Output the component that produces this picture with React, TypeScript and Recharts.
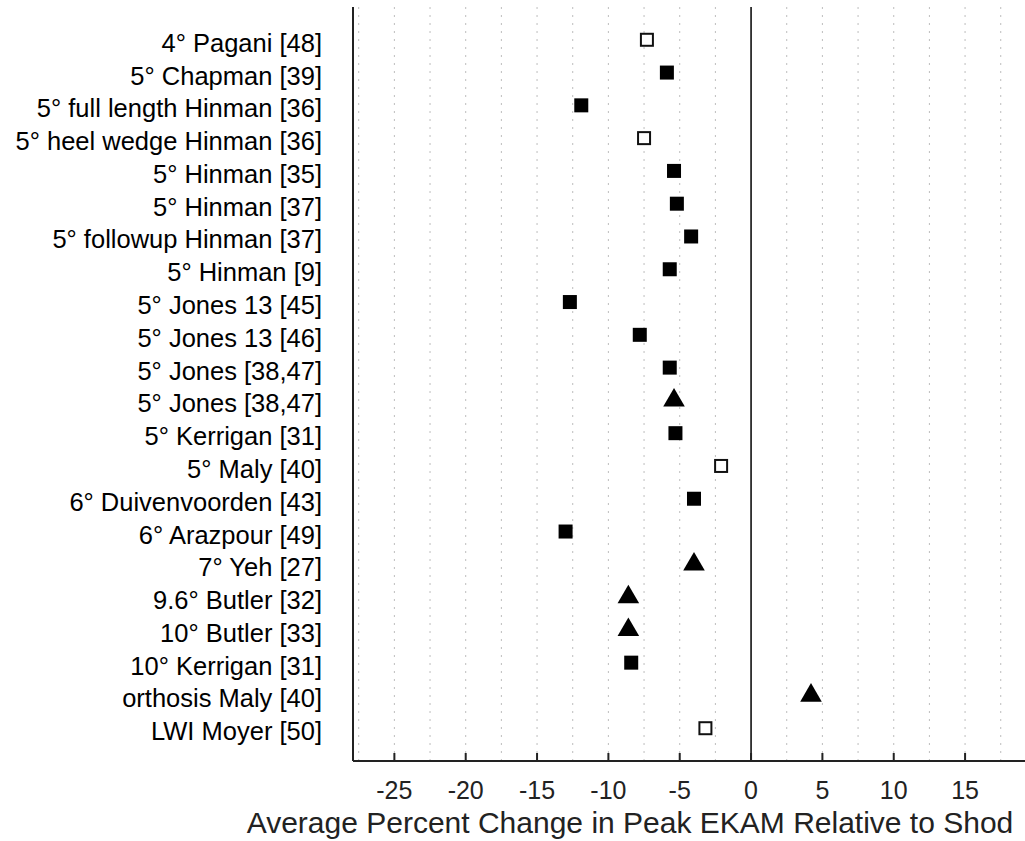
import { ScatterChart, Scatter, XAxis, YAxis, ReferenceLine } from 'recharts';

const FONT = '"Liberation Sans", Arial, sans-serif';

// study labels, top to bottom
const studyLabels = [
  '4° Pagani [48]',
  '5° Chapman [39]',
  '5° full length Hinman [36]',
  '5° heel wedge Hinman [36]',
  '5° Hinman [35]',
  '5° Hinman [37]',
  '5° followup Hinman [37]',
  '5° Hinman [9]',
  '5° Jones 13 [45]',
  '5° Jones 13 [46]',
  '5° Jones [38,47]',
  '5° Jones [38,47]',
  '5° Kerrigan [31]',
  '5° Maly [40]',
  '6° Duivenvoorden [43]',
  '6° Arazpour [49]',
  '7° Yeh [27]',
  '9.6° Butler [32]',
  '10° Butler [33]',
  '10° Kerrigan [31]',
  'orthosis Maly [40]',
  'LWI Moyer [50]',
];

// average percent change in peak EKAM
const changeValues = [
  -7.3, -5.9, -11.9, -7.5, -5.4, -5.2, -4.2, -5.7, -12.7, -7.8, -5.7,
  -5.4, -5.3, -2.1, -4.0, -13.0, -4.0, -8.6, -8.6, -8.4, 4.2, -3.2,
];

// marker kind per study
const markerKinds = [
  'open', 'filled', 'filled', 'open', 'filled', 'filled', 'filled', 'filled',
  'filled', 'filled', 'filled', 'triangle', 'filled', 'open', 'filled',
  'filled', 'triangle', 'triangle', 'triangle', 'filled', 'triangle', 'open',
];

const xTicks = [-25, -20, -15, -10, -5, 0, 5, 10, 15];
const gridValues = [
  -27.5, -25, -22.5, -20, -17.5, -15, -12.5, -10, -7.5, -5, -2.5, 2.5, 5,
  7.5, 10, 12.5, 15, 17.5,
];
const xTitle = 'Average Percent Change in Peak EKAM Relative to Shod';

const points = changeValues.map((x, i) => ({ x, y: i + 1, kind: markerKinds[i] }));
const filledPts = points.filter(p => p.kind === 'filled');
const openPts = points.filter(p => p.kind === 'open');
const trianglePts = points.filter(p => p.kind === 'triangle');

const FilledSquare = (props: any) => (
  <rect x={props.cx - 7} y={props.cy - 7} width={14} height={14} fill="#000" />
);

const OpenSquare = (props: any) => (
  <rect x={props.cx - 6} y={props.cy - 6} width={12} height={12} fill="#fff" stroke="#111" strokeWidth={2} />
);

const Triangle = (props: any) => {
  const { cx, cy } = props;
  return (
    <path d={`M${cx},${cy - 12.4} L${cx + 10.8},${cy + 6.2} L${cx - 10.8},${cy + 6.2} Z`} fill="#000" />
  );
};

const YTick = (props: any) => {
  const { x, y, payload } = props;
  return (
    <text x={x - 31} y={y + 12} textAnchor="end" fontSize={25.5} fontFamily={FONT} fill="#000">
      {studyLabels[payload.value - 1]}
    </text>
  );
};

const XTick = (props: any) => {
  const { x, y, payload } = props;
  return (
    <g>
      <line x1={x} x2={x} y1={y} y2={y - 8} stroke="#222" strokeWidth={2} />
      <text x={x} y={y + 38} textAnchor="middle" fontSize={25} fontFamily={FONT} fill="#222">
        {payload.value}
      </text>
    </g>
  );
};

const AxisTitle = (props: any) => {
  const { viewBox } = props;
  return (
    <text
      x={viewBox.x + viewBox.width / 2 - 59}
      y={viewBox.y + 72}
      textAnchor="middle"
      fontSize={30}
      fontFamily={FONT}
      fill="#222"
    >
      {xTitle}
    </text>
  );
};

export default function App() {
  return (
    <div style={{ position: 'absolute', left: 0, top: 0, background: '#fff' }}>
      <ScatterChart width={1025} height={841} margin={{ top: 7, right: 0, bottom: 0, left: 0 }}>
        <XAxis
          type="number"
          dataKey="x"
          domain={[-27.9, 19.2]}
          ticks={xTicks}
          allowDataOverflow
          height={80}
          tickSize={0}
          tickMargin={0}
          tickLine={false}
          axisLine={{ stroke: '#222', strokeWidth: 2 }}
          tick={<XTick />}
          interval={0}
          label={{ content: <AxisTitle /> }}
        />
        <YAxis
          type="number"
          dataKey="y"
          domain={[0, 23]}
          reversed
          ticks={studyLabels.map((_, i) => i + 1)}
          interval={0}
          width={353}
          tickSize={0}
          tickMargin={0}
          tickLine={false}
          axisLine={{ stroke: '#222', strokeWidth: 2 }}
          tick={<YTick />}
        />
        {gridValues.map(v => (
          <ReferenceLine key={v} x={v} stroke="#bdbdbd" strokeWidth={1} strokeDasharray="2 6" />
        ))}
        <ReferenceLine x={0} stroke="#000" strokeWidth={1.5} />
        <Scatter data={filledPts} shape={<FilledSquare />} isAnimationActive={false} />
        <Scatter data={openPts} shape={<OpenSquare />} isAnimationActive={false} />
        <Scatter data={trianglePts} shape={<Triangle />} isAnimationActive={false} />
      </ScatterChart>
    </div>
  );
}
